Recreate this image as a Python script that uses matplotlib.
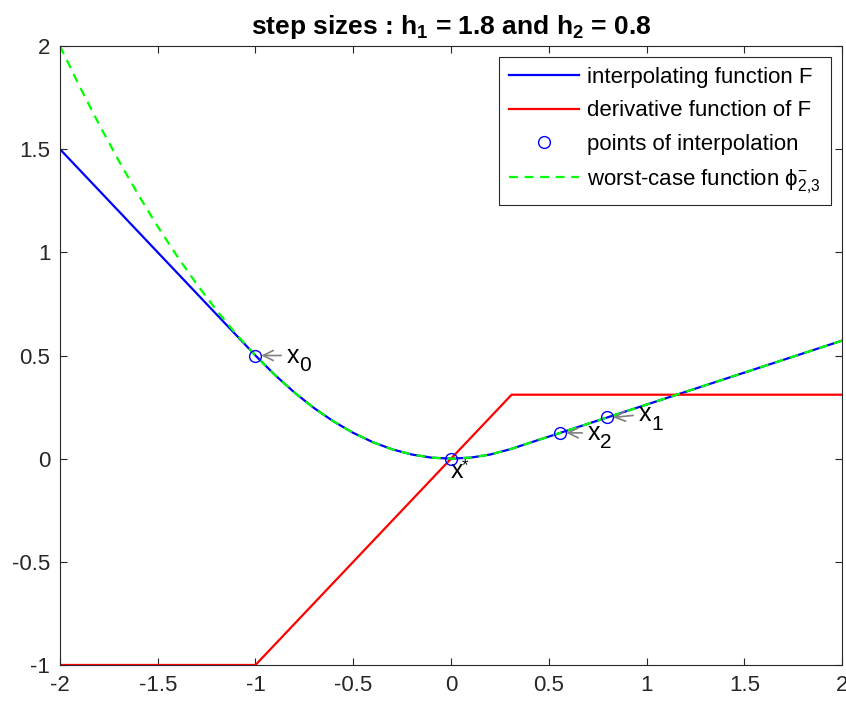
import matplotlib
matplotlib.use("Agg")
import matplotlib.pyplot as plt

plt.rcParams['font.family'] = ['Liberation Sans', 'DejaVu Sans']
plt.rcParams['mathtext.fontset'] = 'custom'
plt.rcParams['mathtext.rm'] = 'Liberation Sans'
plt.rcParams['mathtext.it'] = 'DejaVu Serif:italic'
plt.rcParams['mathtext.bf'] = 'Liberation Sans:bold'
plt.rcParams['mathtext.default'] = 'rm'

# interpolating function F
f_x = [-2.0, -1.0, -0.9, -0.8, -0.7, -0.6, -0.5, -0.4, -0.3, -0.2, -0.1, 0.0,
       0.1, 0.2, 0.3, 0.31, 2.0]
f_y = [1.5, 0.5, 0.405, 0.32, 0.245, 0.18, 0.125, 0.08, 0.045, 0.02, 0.005, 0.0,
       0.005, 0.02, 0.045, 0.048, 0.572]
# derivative of F
d_x = [-2.0, -1.0, 0.31, 2.0]
d_y = [-1.0, -1.0, 0.31, 0.31]
# worst-case function
w_x = [-2.0, -1.9, -1.8, -1.7, -1.6, -1.5, -1.4, -1.3, -1.2, -1.1, -1.0, -0.9,
       -0.8, -0.7, -0.6, -0.5, -0.4, -0.3, -0.2, -0.1, 0.0, 0.1, 0.2, 0.3, 0.31, 2.0]
w_y = [2.0, 1.805, 1.62, 1.445, 1.28, 1.125, 0.98, 0.845, 0.72, 0.605, 0.5, 0.405,
       0.32, 0.245, 0.18, 0.125, 0.08, 0.045, 0.02, 0.005, 0.0, 0.005, 0.02, 0.045,
       0.048, 0.572]
# interpolation points
p_x = [-1.0, 0.8, 0.56, 0.0]
p_y = [0.5, 0.2, 0.125, 0.0]
p_main = ['x', 'x', 'x', 'x']
p_sub = ['0', '1', '2', '*']
ann_text = [(-0.84, 0.5), (0.96, 0.215), (0.7, 0.125), (0.0, -0.06)]

fig = plt.figure(figsize=(8.46, 7.06), dpi=100)
ax = fig.add_axes([0.0709, 0.0581, 0.9244, 0.8767])

ax.plot(f_x, f_y, color=(0, 0, 1), lw=1.6, label='interpolating function F')
ax.plot(d_x, d_y, color=(1, 0, 0), lw=1.6, label='derivative function of F')
ax.plot(p_x, p_y, 'o', mfc='none', mec=(0, 0, 1), ms=8.5, mew=1.0,
        label='points of interpolation', zorder=5)
ax.plot(w_x, w_y, color=(0, 1, 0), lw=1.6, ls=(0, (4, 3)),
        label=r'worst-case function $\phi^{-}_{2{,}3}$')

# annotations
for px, py, m, s, (tx, ty) in zip(p_x, p_y, p_main, p_sub, ann_text):
    if s == '*':
        ax.text(tx, ty, m, fontsize=18, ha='left', va='center')
        ax.annotate(s, xy=(tx, ty), xytext=(8, 4), textcoords='offset points',
                    fontsize=12, ha='left', va='center')
    else:
        ax.annotate(m, xy=(px + 0.03, py), xytext=(tx, ty), fontsize=18,
                    ha='left', va='center',
                    arrowprops=dict(arrowstyle='->', color='gray', lw=1.2,
                                    shrinkA=2, shrinkB=0))
        ax.annotate(s, xy=(tx, ty), xytext=(9, -7), textcoords='offset points',
                    fontsize=15, ha='left', va='center')

ax.set_xlim(-2, 2)
ax.set_ylim(-1, 2)
ax.set_xticks([-2, -1.5, -1, -0.5, 0, 0.5, 1, 1.5, 2])
ax.set_xticklabels(['-2', '-1.5', '-1', '-0.5', '0', '0.5', '1', '1.5', '2'])
ax.set_yticks([-1, -0.5, 0, 0.5, 1, 1.5, 2])
ax.set_yticklabels(['-1', '-0.5', '0', '0.5', '1', '1.5', '2'])
ax.tick_params(direction='in', length=5, labelsize=16, colors='#262626',
               top=True, right=True, pad=7)
for s in ax.spines.values():
    s.set_color('#262626')
    s.set_linewidth(0.8)

ax.set_title(r'step sizes : h$_\mathbf{1}$ = 1.8 and h$_\mathbf{2}$ = 0.8',
             fontsize=19, fontweight='bold', pad=9)

leg = ax.legend(loc='upper right', fontsize=16, fancybox=False, edgecolor='#262626',
                framealpha=1, borderaxespad=0.5, handlelength=3.15,
                handletextpad=0.36, labelspacing=0.55, borderpad=0.45)
leg.get_frame().set_linewidth(0.8)

fig.savefig('out.png', dpi=100)
